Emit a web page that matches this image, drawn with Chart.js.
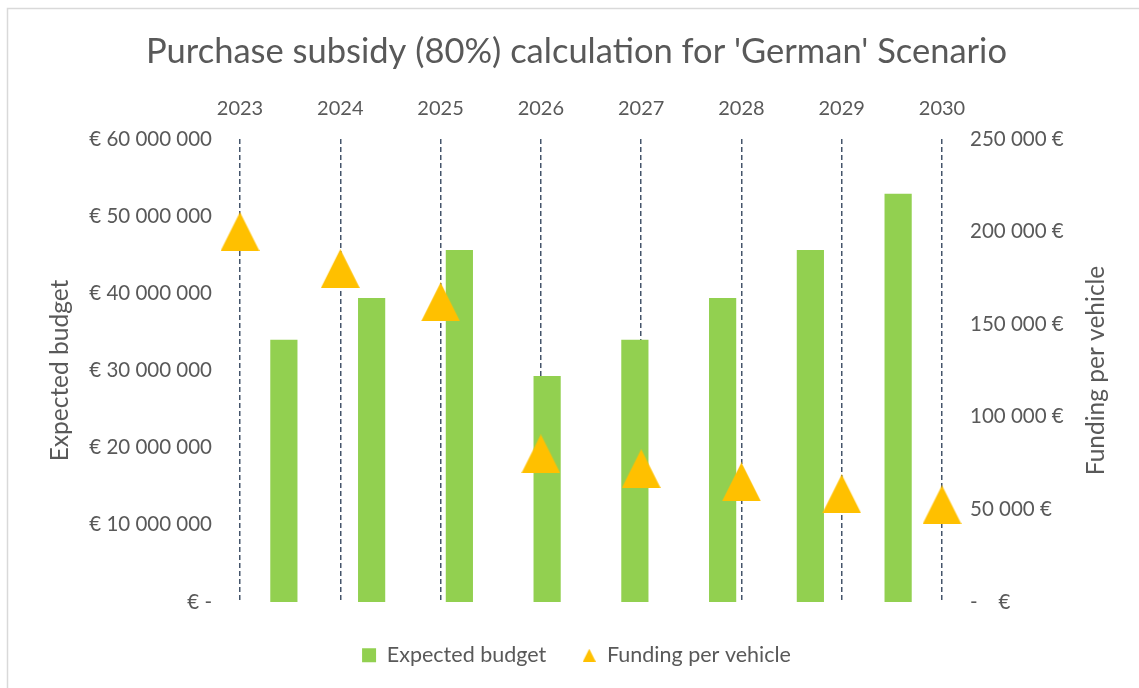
<!DOCTYPE html>
<html>
<head>
<meta charset="utf-8">
<script src="https://cdn.jsdelivr.net/npm/chart.js@4.4.1/dist/chart.umd.min.js"></script>
<style>
  html, body { margin: 0; padding: 0; background: #ffffff; }
  #c { display: block; }
</style>
</head>
<body>
<canvas id="c" width="1139" height="688"></canvas>
<script>
// Years of the scenario
const years = ['2023', '2024', '2025', '2026', '2027', '2028', '2029', '2030'];
// Expected budget per year (EUR)
const expectedBudget = [34000000, 39400000, 45600000, 29300000, 34000000, 39400000, 45600000, 52900000];
// Funding per vehicle per year (EUR)
const fundingPerVehicle = [200000, 180000, 162000, 80000, 72000, 64800, 58320, 52488];
// Axis ranges: min, max, step
const budgetAxis = [0, 60000000, 10000000];
const fundingAxis = [0, 250000, 50000];

const FONT = 'Lato, "Open Sans", sans-serif';
const GREY = '#595959';
const GREEN = '#92D050';
const GOLD = '#FFC000';

function grouped(n) {
  return Math.round(n).toString().replace(/\B(?=(\d{3})+(?!\d))/g, ' ');
}

// Triangle marker whose bounding box is centred on the data point
function triangleCanvas(w, h, color) {
  const cv = document.createElement('canvas');
  cv.width = w; cv.height = h;
  const g = cv.getContext('2d');
  g.fillStyle = color;
  g.beginPath();
  g.moveTo(w / 2, 0);
  g.lineTo(w, h);
  g.lineTo(0, h);
  g.closePath();
  g.fill();
  return cv;
}
const bigTriangle = triangleCanvas(39, 39, GOLD);
const smallTriangle = triangleCanvas(13, 13, GOLD);

const PLOT_LEFT = 240, PLOT_RIGHT = 942, PLOT_TOP = 139;
const TITLE_SIZE = 34.5, TITLE_PAD = 31.5;

const frame = {
  id: 'frame',
  beforeDraw(chart) {
    const ctx = chart.ctx;
    ctx.save();
    ctx.fillStyle = '#ffffff';
    ctx.fillRect(0, 0, chart.width, chart.height);
    ctx.restore();
  },
  afterDraw(chart) {
    const ctx = chart.ctx;
    ctx.save();
    ctx.strokeStyle = '#d9d9d9';
    ctx.lineWidth = 1.5;
    ctx.strokeRect(7.5, 8.5, chart.width + 20, chart.height + 20);
    // right axis title, reading bottom-to-top
    const a = chart.chartArea;
    ctx.translate(1096, (a.top + a.bottom) / 2);
    ctx.rotate(-Math.PI / 2);
    ctx.fillStyle = GREY;
    ctx.font = '24.5px ' + FONT;
    ctx.textAlign = 'center';
    ctx.textBaseline = 'middle';
    ctx.fillText('Funding per vehicle', 0, 0);
    ctx.restore();
  }
};

new Chart(document.getElementById('c'), {
  data: {
    labels: years,
    datasets: [
      {
        type: 'bar',
        label: 'Expected budget',
        data: expectedBudget,
        backgroundColor: GREEN,
        borderWidth: 0,
        xAxisID: 'x',
        yAxisID: 'y',
        grouped: false,
        categoryPercentage: 1,
        barPercentage: 0.31,
        order: 2
      },
      {
        type: 'line',
        label: 'Funding per vehicle',
        data: fundingPerVehicle,
        showLine: false,
        backgroundColor: GOLD,
        borderColor: GOLD,
        pointStyle: bigTriangle,
        pointRadius: 20,
        pointHoverRadius: 20,
        xAxisID: 'x2',
        yAxisID: 'y2',
        order: 1
      }
    ]
  },
  options: {
    responsive: false,
    animation: false,
    devicePixelRatio: 1,
    layout: { padding: { left: 14, right: 0, top: 0, bottom: 12 } },
    plugins: {
      tooltip: { enabled: false },
      title: {
        display: true,
        text: "Purchase subsidy (80%) calculation for 'German' Scenario",
        color: GREY,
        font: { family: FONT, size: TITLE_SIZE, weight: 'normal' },
        padding: { top: TITLE_PAD, bottom: 0 }
      },
      legend: {
        position: 'bottom',
        maxHeight: 80,
        labels: {
          color: GREY,
          font: { family: FONT, size: 21.5 },
          usePointStyle: true,
          boxHeight: 14,
          boxWidth: 14,
          padding: 36,
          sort: (a, b) => a.datasetIndex - b.datasetIndex,
          generateLabels(chart) {
            const items = Chart.defaults.plugins.legend.labels.generateLabels(chart);
            items.forEach(it => {
              const isBar = it.datasetIndex === 0;
              it.pointStyle = isBar ? 'rect' : smallTriangle;
              it.fillStyle = isBar ? GREEN : GOLD;
              it.lineWidth = 0;
              it.strokeStyle = 'rgba(0,0,0,0)';
            });
            return items;
          }
        }
      }
    },
    scales: {
      x: {
        type: 'category',
        position: 'bottom',
        offset: true,
        ticks: { display: false },
        grid: { display: false, drawTicks: false },
        border: { display: false },
        afterFit(s) { s.height = 6.5; }
      },
      x2: {
        type: 'category',
        position: 'top',
        labels: years,
        offset: false,
        ticks: { color: GREY, font: { family: FONT, size: 20 }, padding: 18, maxRotation: 0, autoSkip: false },
        grid: { display: true, drawOnChartArea: true, drawTicks: false, color: '#44546A', lineWidth: 1.5 },
        border: { display: false, dash: [5, 3] },
        afterFit(s) { s.height = PLOT_TOP - (TITLE_PAD + TITLE_SIZE * 1.2); }
      },
      y: {
        position: 'left',
        min: budgetAxis[0],
        max: budgetAxis[1],
        ticks: {
          stepSize: budgetAxis[2],
          color: GREY,
          font: { family: FONT, size: 20.5 },
          padding: 28,
          callback: v => v === 0 ? '€ -' : '€ ' + grouped(v)
        },
        grid: { display: false, drawTicks: false },
        border: { display: false },
        title: {
          display: true,
          text: 'Expected budget',
          color: GREY,
          font: { family: FONT, size: 24.5 },
          padding: { top: 31, bottom: 0 }
        },
        afterFit(s) { s.width = PLOT_LEFT - 14; }
      },
      y2: {
        position: 'right',
        min: fundingAxis[0],
        max: fundingAxis[1],
        ticks: {
          stepSize: fundingAxis[2],
          color: GREY,
          font: { family: FONT, size: 20.5 },
          padding: 28,
          callback: v => v === 0 ? '-    €' : grouped(v) + ' €'
        },
        grid: { display: false, drawTicks: false },
        border: { display: false },
        afterFit(s) { s.width = 1139 - PLOT_RIGHT; }
      }
    }
  },
  plugins: [frame]
});
</script>
</body>
</html>
